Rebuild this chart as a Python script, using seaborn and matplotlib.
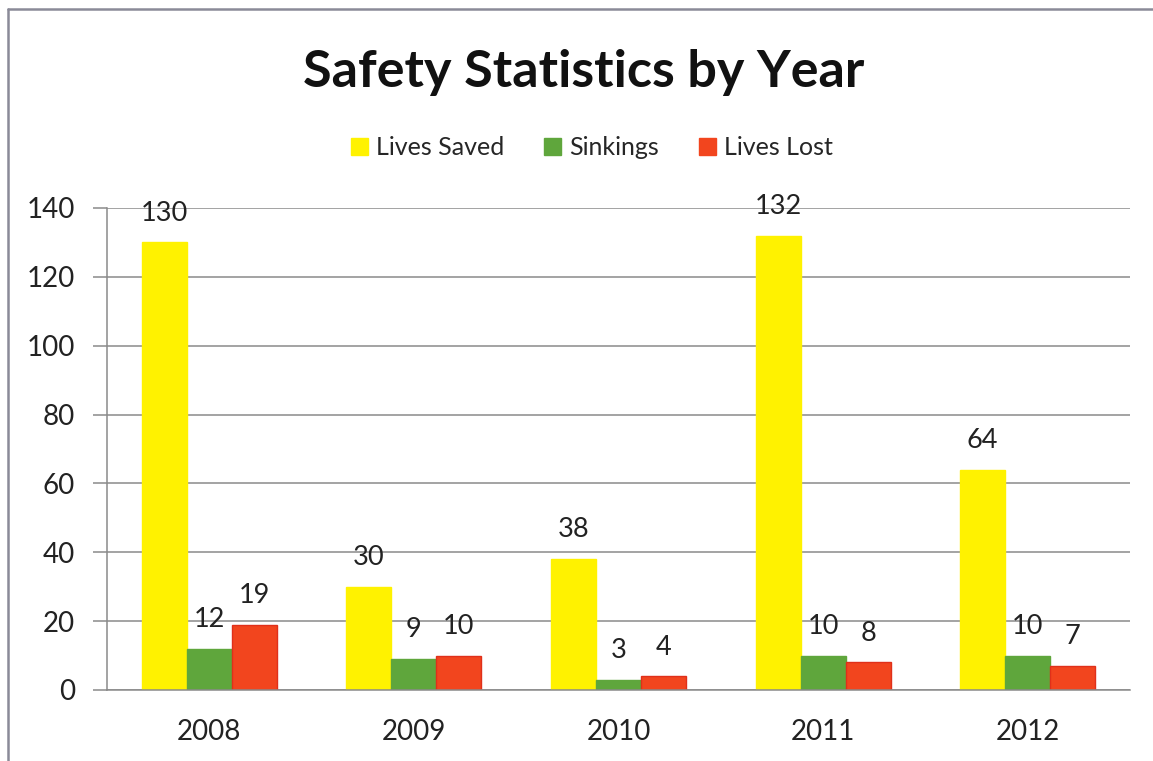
import pandas as pd
import matplotlib.pyplot as plt
import seaborn as sns
import numpy as np
from matplotlib.lines import Line2D

years = ['2008', '2009', '2010', '2011', '2012']
series = ['Lives Saved', 'Sinkings', 'Lives Lost']
lives_saved = [130, 30, 38, 132, 64]
sinkings = [12, 9, 3, 10, 10]
lives_lost = [19, 10, 4, 8, 7]
colors = ['#FFF200', '#5FA63C', '#F2451E']
y_ticks = [0, 20, 40, 60, 80, 100, 120, 140]

df = pd.DataFrame({
    'Year': years * 3,
    'Series': [s for s in series for _ in years],
    'Count': lives_saved + sinkings + lives_lost,
})

sns.set_theme(style='white')
plt.rcParams['font.family'] = ['Lato', 'DejaVu Sans']

fig = plt.figure(figsize=(11.53, 7.61), dpi=100)
ax = fig.add_axes([0.0928, 0.0933, 0.8872, 0.6334])

sns.barplot(data=df, x='Year', y='Count', hue='Series', palette=colors,
            width=0.66, gap=0, saturation=1, ax=ax, legend=True)

for cont, col in zip(ax.containers, colors):
    for bar in cont:
        bar.set_edgecolor('#E0301A' if col == '#F2451E' else col)
        bar.set_linewidth(1)
    ax.bar_label(cont, padding=12, fontsize=19.5, color='#222222')

ax.set_ylim(0, 140)
ax.set_xlim(-0.5, len(years) - 0.5)
ax.set_yticks(y_ticks)
ax.yaxis.grid(True, color='#8a8a8a', linewidth=1.1)
ax.set_axisbelow(True)
ax.set_xlabel('')
ax.set_ylabel('')

for side in ['top', 'right']:
    ax.spines[side].set_visible(False)
for side in ['left', 'bottom']:
    ax.spines[side].set_color('#8a8a8a')
    ax.spines[side].set_linewidth(1.1)

ax.set_xticks(np.arange(len(years)))
ax.set_xticklabels(years)
ax.set_xticks(np.arange(-0.5, len(years)), minor=True)
ax.tick_params(axis='x', which='major', length=0, labelsize=20, pad=21, colors='#222222')
ax.tick_params(axis='x', which='minor', length=11, width=1.1, color='#8a8a8a', direction='out')
ax.tick_params(axis='y', which='major', length=10, width=1.1, color='#8a8a8a', labelsize=20,
               pad=13, labelcolor='#222222', left=True)

ax.legend_.remove()
handles = [plt.Rectangle((0, 0), 1, 1, facecolor=c, edgecolor=c) for c in colors]
fig.legend(handles, series, loc='center', bbox_to_anchor=(0.513, 0.806), ncol=3,
           frameon=False, fontsize=18, handlelength=0.7, handleheight=0.7,
           handletextpad=0.3, columnspacing=1.6)

fig.text(0.506, 0.905, 'Safety Statistics by Year', ha='center', va='center',
         fontsize=37.5, fontweight='bold', color='#111111')

# outer border of the chart frame
fig.add_artist(Line2D([0.0069, 1.0], [0.988, 0.988], transform=fig.transFigure,
                      color='#8a8a98', linewidth=1.8))
fig.add_artist(Line2D([0.0069, 0.0069], [0.988, 0.0], transform=fig.transFigure,
                      color='#8a8a98', linewidth=1.8))

plt.savefig('out.png', dpi=100)
plt.close()
